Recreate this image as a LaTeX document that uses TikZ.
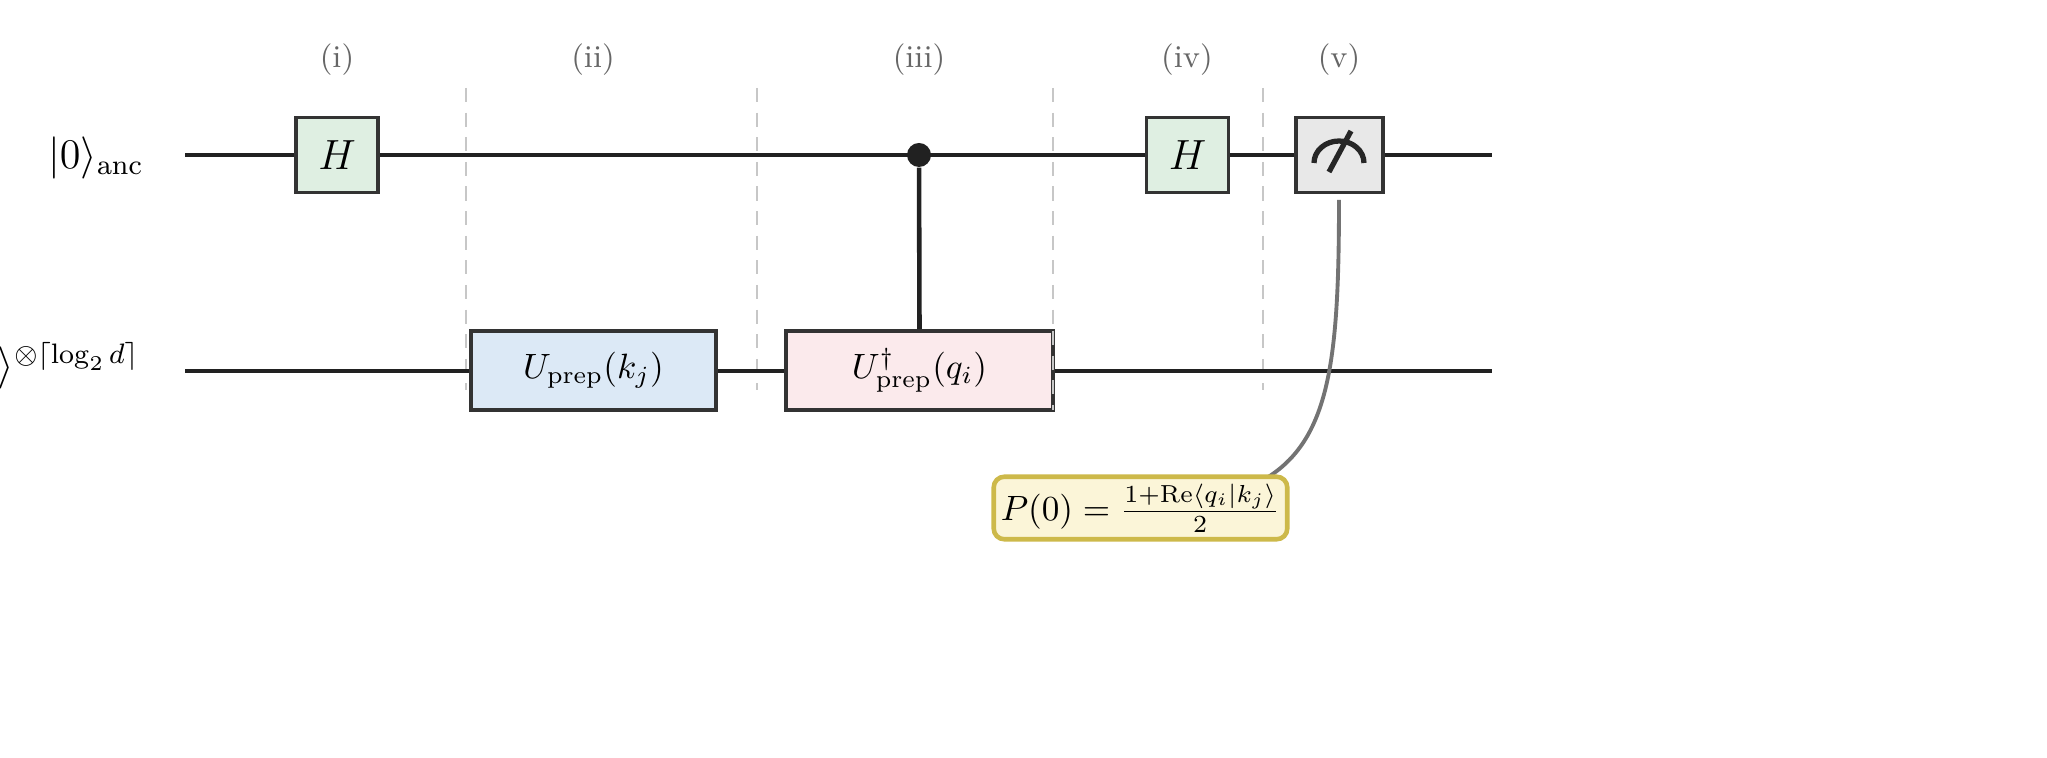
\documentclass[tikz,border=0pt]{standalone}
\usepackage{amsmath}
\begin{document}
\begin{tikzpicture}[x=0.01cm,y=-0.01cm,
  wire/.style={line width=1.3pt,draw=black!87},
  gate/.style={draw=black!80,line width=1.1pt,inner sep=0pt},
  sep/.style={draw=black!22,dashed,line width=0.6pt,dash pattern=on 4pt off 3pt},
  lab/.style={text=black!60,font=\small}]
\definecolor{hg}{HTML}{DFEFE2}\definecolor{ub}{HTML}{DCE9F6}
\definecolor{up}{HTML}{FBEAEC}\definecolor{mg}{HTML}{E8E8E8}
\definecolor{ry}{HTML}{FBF5D8}\definecolor{rb}{HTML}{CDB94A}
\useasboundingbox (0,0) rectangle (2047,758);
\foreach \x in {466,757,1053,1263} \draw[sep] (\x,88) -- (\x,390);
\coordinate (a0) at (185,155); \coordinate (a1) at (1492,155);
\coordinate (d0) at (185,371); \coordinate (d1) at (1492,371);
\draw[wire] (a0) -- (a1);
\draw[wire] (d0) -- (d1);
\node[gate,fill=hg,minimum width=0.82cm,minimum height=0.75cm] (h1) at (337,155) {\large $H$};
\node[gate,fill=hg,minimum width=0.82cm,minimum height=0.75cm] (h2) at (1187.5,155) {\large $H$};
\node[gate,fill=mg,minimum width=0.87cm,minimum height=0.75cm] (m) at (1339.5,155) {};
\draw[line width=1.5pt,black!85] (1314,163) arc[start angle=180,end angle=0,x radius=25,y radius=-22];
\draw[line width=1.5pt,black!85] (1329,172) -- (1351,131);
\node[gate,fill=ub,minimum width=2.45cm,minimum height=0.79cm] (u) at (593.5,370.5) {$U_{\mathrm{prep}}(k_j)$};
\node[gate,fill=up,minimum width=2.67cm,minimum height=0.79cm] (ud) at (919.5,370.5) {$U^{\dagger}_{\mathrm{prep}}(q_i)$};
\draw[sep] (1053,331) -- (1053,410);
\node[circle,fill=black!87,minimum size=0.24cm,inner sep=0pt] (c) at (919,155) {};
\draw[wire] (c) -- (ud.north);
\node[anchor=east,font=\large] (la) at (156,158) {$|0\rangle_{\mathrm{anc}}$};
\node[anchor=east,font=\large] (ld) at (152,366) {$|0\rangle^{\otimes\lceil\log_2 d\rceil}$};
\foreach \t/\x in {(i)/337,(ii)/593,(iii)/919,(iv)/1187,(v)/1339} \node[lab] at (\x,60) {\t};
\draw[black!55,line width=1.1pt] (1339,200) .. controls (1339,360) and (1330,440) .. (1265,479);
\node[draw=rb,fill=ry,rounded corners=3pt,line width=1.3pt,minimum width=2.71cm,minimum height=0.56cm,inner sep=2pt,font=\normalsize] (r) at (1140.5,508) {$P(0)=\frac{1+\mathrm{Re}\langle q_i|k_j\rangle}{2}$};
\end{tikzpicture}
\end{document}
